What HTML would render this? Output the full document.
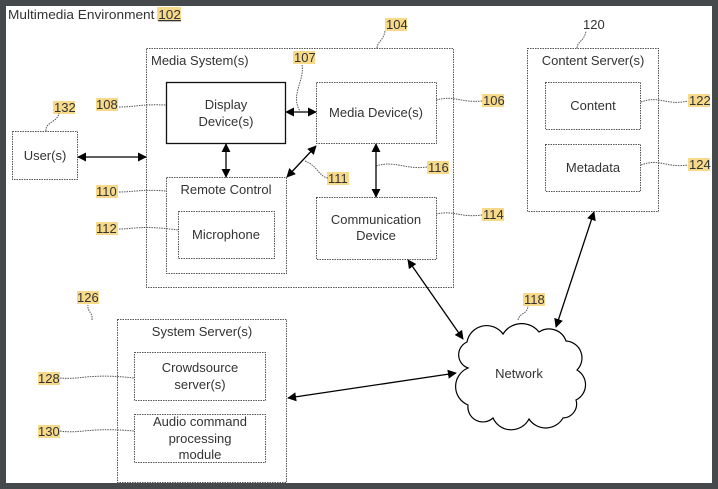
<!DOCTYPE html>
<html><head><meta charset="utf-8"><style>
html,body{margin:0;padding:0;background:#46494c;}
svg{display:block;}
text{font-family:"Liberation Sans",Arial,sans-serif;fill:#333;}
</style></head><body>
<svg width="718" height="489" viewBox="0 0 718 489" xmlns="http://www.w3.org/2000/svg">
<defs>
<marker id="a" viewBox="0 0 10 10" refX="9" refY="5" markerWidth="9" markerHeight="9" orient="auto-start-reverse" markerUnits="userSpaceOnUse"><path d="M0,0 L10,5 L0,10 z" fill="#000"/></marker>
</defs>
<rect x="6" y="6" width="706" height="477" fill="#fff"/>
<g fill="#f7d98a">
<rect x="157" y="7" width="24" height="14"/>
<rect x="385" y="18" width="22" height="13"/>
<rect x="293" y="51" width="22" height="13"/>
<rect x="53" y="101" width="22" height="13"/>
<rect x="96" y="98" width="22" height="13"/>
<rect x="482" y="94" width="22" height="13"/>
<rect x="96" y="185" width="22" height="13"/>
<rect x="327" y="172" width="22" height="13"/>
<rect x="427" y="161" width="22" height="13"/>
<rect x="96" y="222" width="22" height="13"/>
<rect x="482" y="208" width="22" height="13"/>
<rect x="688" y="94" width="22" height="13"/>
<rect x="688" y="158" width="22" height="13"/>
<rect x="77" y="291" width="22" height="13"/>
<rect x="523" y="293" width="22" height="13"/>
<rect x="38" y="372" width="22" height="13"/>
<rect x="38" y="425" width="22" height="13"/>
</g>
<g font-size="13">
<text x="8" y="19" textLength="173" lengthAdjust="spacingAndGlyphs">Multimedia Environment <tspan text-decoration="underline">102</tspan></text>
<text x="386" y="29">104</text><text x="583" y="29">120</text>
<text x="294" y="62">107</text><text x="54" y="112">132</text><text x="96" y="109">108</text>
<text x="483" y="105">106</text><text x="96" y="196">110</text><text x="328" y="183">111</text>
<text x="428" y="172">116</text><text x="96" y="233">112</text><text x="483" y="219">114</text>
<text x="689" y="105">122</text><text x="689" y="169">124</text>
<text x="77" y="302">126</text><text x="524" y="304">118</text>
<text x="38" y="383">128</text><text x="38" y="436">130</text>
</g>
<g fill="none" stroke="#555" stroke-width="1" stroke-dasharray="1.5,1">
<rect x="146.5" y="48.5" width="307" height="239"/>
<rect x="316.5" y="82.5" width="120" height="61"/>
<rect x="166.5" y="177.5" width="120" height="96"/>
<rect x="178.5" y="211.5" width="96" height="47"/>
<rect x="316.5" y="197.5" width="120" height="62"/>
<rect x="12.5" y="131.5" width="65" height="48"/>
<rect x="527.5" y="48.5" width="131" height="163"/>
<rect x="545.5" y="82.5" width="95" height="47"/>
<rect x="545.5" y="144.5" width="95" height="47"/>
<rect x="117.5" y="319.5" width="169" height="163"/>
<rect x="134.5" y="352.5" width="131" height="48"/>
<rect x="134.5" y="414.5" width="131" height="48"/>
<path d="M119,107 C135,107 140,104 166,105"/>
<path d="M119,192 C135,192 140,189 166,191"/>
<path d="M119,229 C135,229 140,225 178,230"/>
<path d="M436,100 C455,95 460,103 482,101"/>
<path d="M436,214 C455,210 460,218 482,215"/>
<path d="M376,166 C395,160 405,170 427,167"/>
<path d="M641,102 C660,95 665,106 688,101"/>
<path d="M641,165 C660,158 665,168 688,165"/>
<path d="M302,65 C305,80 290,95 300,111"/>
<path d="M305,161 C318,166 318,176 328,178"/>
<path d="M46,131 C45,122 58,122 59,113"/>
<path d="M377,48 C378,40 383,42 385,31"/>
<path d="M577,48 C578,40 584,42 586,31"/>
<path d="M92,320 C93,312 87,312 88,305"/>
<path d="M60,378 C80,380 90,373 134,378"/>
<path d="M60,431 C80,434 90,427 134,431"/>
<path d="M518,320 C520,312 527,315 528,306"/>
</g>
<rect x="166.5" y="82.5" width="119" height="61" fill="none" stroke="#111" stroke-width="1.3"/>
<g fill="none" stroke="#000" stroke-width="1.3" marker-start="url(#a)" marker-end="url(#a)">
<line x1="78" y1="157" x2="146" y2="157"/>
<line x1="286" y1="112" x2="316" y2="112"/>
<line x1="226" y1="144" x2="226" y2="177"/>
<line x1="287" y1="177" x2="316" y2="146"/>
<line x1="376" y1="144" x2="376" y2="197"/>
<line x1="408" y1="260" x2="463" y2="339"/>
<line x1="594" y1="212" x2="556" y2="327"/>
<line x1="288" y1="398" x2="456" y2="373"/>
</g>
<path d="M467,342 A20,20 0 0 1 503,334 A22,22 0 0 1 539,332 A18,18 0 0 1 566,341 A17,17 0 0 1 577,370 A17,17 0 0 1 576,400 A14,14 0 0 1 563,418 A20,20 0 0 1 529,419 A20,20 0 0 1 493,418 A15,15 0 0 1 468,405 A20,20 0 0 1 468,368 A14,14 0 0 1 467,342 Z" fill="#fff" stroke="#000" stroke-width="1.2"/>
<g font-size="13" text-anchor="middle">
<text x="226" y="109">Display</text><text x="226" y="126">Device(s)</text>
<text x="376" y="117">Media Device(s)</text>
<text x="226" y="194">Remote Control</text>
<text x="226" y="239">Microphone</text>
<text x="376" y="224">Communication</text><text x="376" y="240">Device</text>
<text x="45" y="160">User(s)</text>
<text x="593" y="65">Content Server(s)</text>
<text x="593" y="110">Content</text>
<text x="593" y="172">Metadata</text>
<text x="202" y="336">System Server(s)</text>
<text x="200" y="372">Crowdsource</text><text x="200" y="389">server(s)</text>
<text x="200" y="426">Audio command</text><text x="200" y="443">processing</text><text x="200" y="459">module</text>
<text x="519" y="378">Network</text>
</g>
<text x="151" y="65" font-size="13">Media System(s)</text>
</svg>
</body></html>
